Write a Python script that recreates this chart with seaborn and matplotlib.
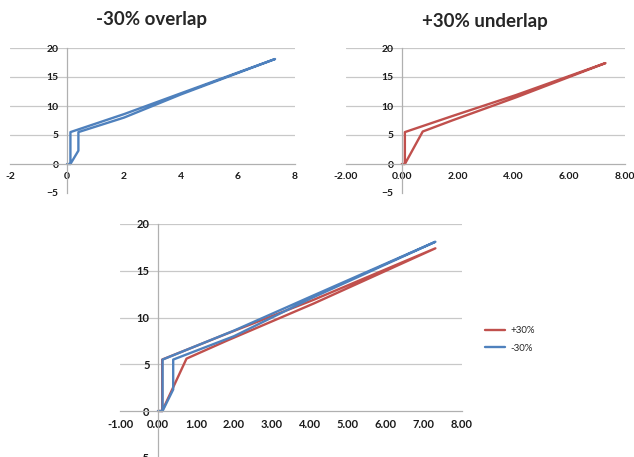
"""Hysteresis loops: -30% overlap vs +30% underlap."""

import matplotlib
matplotlib.use("Agg")

import matplotlib.pyplot as plt
import pandas as pd
import seaborn as sns
from matplotlib.ticker import FormatStrFormatter, MultipleLocator

# loop traced point by point (up the stiff branch, out, back along the soft branch)
plus_x = [0.0, 0.11, 0.11, 1.8, 4.1, 7.3, 4.1, 1.8, 0.75, 0.11]
plus_y = [0.0, 0.0, 5.5, 8.25, 11.9, 17.4, 11.5, 7.5, 5.6, 0.0]
minus_x = [0.0, 0.12, 0.12, 2.0, 4.0, 7.3, 4.0, 2.0, 0.40, 0.40, 0.12]
minus_y = [0.0, 0.0, 5.5, 8.6, 12.2, 18.1, 12.0, 8.0, 5.5, 2.3, 0.0]

series_names = ["+30%", "-30%"]
palette = {"+30%": "#c0504d", "-30%": "#4f81bd"}
titles = {"-30%": "-30% overlap", "+30%": "+30% underlap"}

df = pd.concat([
    pd.DataFrame({"x": plus_x, "y": plus_y, "series": "+30%"}),
    pd.DataFrame({"x": minus_x, "y": minus_y, "series": "-30%"}),
], ignore_index=True)

sns.set_style("white")
plt.rcParams["font.family"] = ["Lato", "DejaVu Sans"]

W, H = 634, 457
fig = plt.figure(figsize=(W / 100, H / 100), dpi=100)


def px_axes(x0, x1, y_top, y_bottom):
    return fig.add_axes([x0 / W, (H - y_bottom) / H, (x1 - x0) / W, (y_bottom - y_top) / H])


def style(ax, xlim, xstep, xfmt, size):
    ax.set_xlim(*xlim)
    ax.set_ylim(-5, 20)
    ax.xaxis.set_major_locator(MultipleLocator(xstep))
    ax.yaxis.set_major_locator(MultipleLocator(5))
    ax.xaxis.set_major_formatter(FormatStrFormatter(xfmt))
    ax.set_xlabel("")
    ax.set_ylabel("")
    for side in ["top", "right"]:
        ax.spines[side].set_visible(False)
    ax.spines["left"].set_position(("data", 0))
    ax.spines["bottom"].set_position(("data", 0))
    for side in ["left", "bottom"]:
        ax.spines[side].set_color("#b0b0b0")
        ax.spines[side].set_linewidth(0.9)
    ax.yaxis.grid(True, color="#c8c8c8", linewidth=0.9)
    ax.set_axisbelow(True)
    for val, gl in zip(ax.get_yticks(), ax.get_ygridlines()):
        if val <= 0:
            gl.set_visible(False)
    ax.tick_params(axis="both", labelsize=size, colors="#b0b0b0", labelcolor="#1a1a1a",
                   length=3, width=0.8, pad=3)
    for lab in ax.get_xticklabels() + ax.get_yticklabels():
        lab.set_fontweight("bold")
    ax.patch.set_alpha(0)


# top left: -30% overlap
ax1 = px_axes(10, 295, 48, 193)
sns.lineplot(data=df[df["series"] == "-30%"], x="x", y="y", sort=False, estimator=None,
             color=palette["-30%"], linewidth=1.7, ax=ax1)
style(ax1, (-2, 8), 2, "%d", 7.5)
fig.text(152 / W, 1 - 20 / H, titles["-30%"], ha="center", va="center",
         fontsize=13.5, fontweight="bold")

# top right: +30% underlap
ax2 = px_axes(346, 625, 48, 193)
sns.lineplot(data=df[df["series"] == "+30%"], x="x", y="y", sort=False, estimator=None,
             color=palette["+30%"], linewidth=1.7, ax=ax2)
style(ax2, (-2, 8), 2, "%.2f", 7.5)
fig.text(485 / W, 1 - 22 / H, titles["+30%"], ha="center", va="center",
         fontsize=13.5, fontweight="bold")

# bottom: both loops together
ax3 = px_axes(120, 462, 224, 457.75)
sns.lineplot(data=df, x="x", y="y", hue="series", hue_order=series_names, units="series",
             sort=False, estimator=None, palette=palette, linewidth=1.7, ax=ax3)
style(ax3, (-1, 8), 1, "%.2f", 8)
handles, labels = ax3.get_legend_handles_labels()
ax3.legend(handles, labels, frameon=False, loc="upper left",
           bbox_to_anchor=(485 / W, 1 - 326 / H), bbox_transform=fig.transFigure,
           borderpad=0, borderaxespad=0, fontsize=7, handlelength=2.1,
           handletextpad=0.5, labelspacing=0.9)

fig.savefig("out.png", dpi=100)
plt.close(fig)
